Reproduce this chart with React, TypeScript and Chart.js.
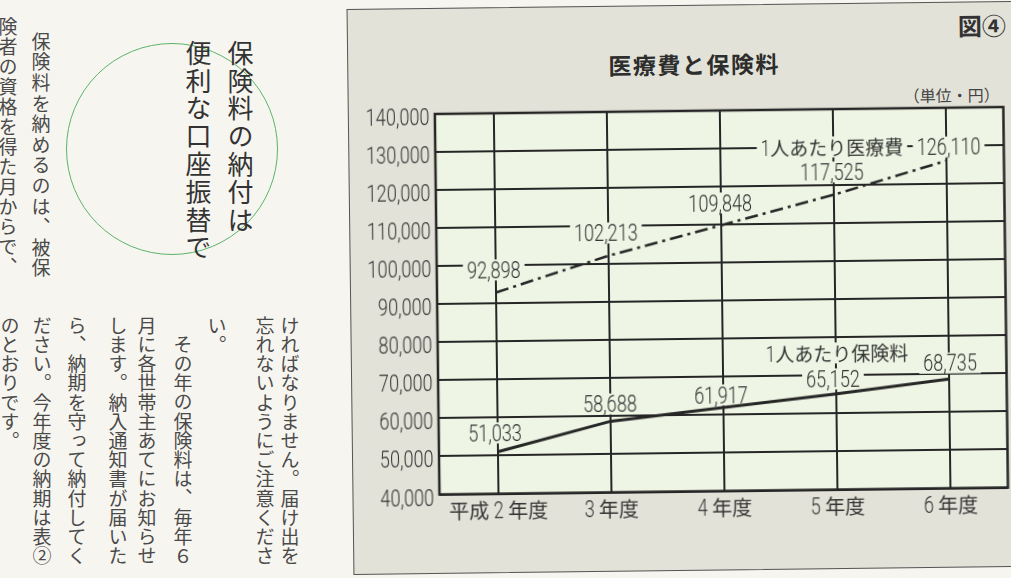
import React, { useEffect, useRef } from "react";
import { Chart, registerables } from "chart.js";

Chart.register(...registerables);

// ---- data ----
const categories = ["平成 2 年度", "3 年度", "4 年度", "5 年度", "6 年度"];
const medicalCost = [92898, 102213, 109848, 117525, 126110];
const premium = [51033, 58688, 61917, 65152, 68735];
const yTicks = [40000, 50000, 60000, 70000, 80000, 90000, 100000, 110000, 120000, 130000, 140000];
const seriesNames = ["1人あたり医療費", "1人あたり保険料"];
const chartTitle = "医療費と保険料";
const unitLabel = "（単位・円）";
const figLabel = "図④";

// ---- label placement (relative to the data point, px) ----
const medicalLabelOffsets = [[-2, -22.5], [-2.5, -22.7], [-1, -22.2], [-2, -22.6], [2, -13.6]];
const premiumLabelOffsets = [[-2.7, -18.8], [-0.5, -17.3], [-2.5, -12.6], [-3.4, -14.9], [0.7, -15.9]];
const nameOffsets = [[-114.7, -15], [-112.2, -27.3]];

// ---- surrounding page text ----
const headline = [
  { text: "保険料の納付は", x: 240, y: 40 },
  { text: "便利な口座振替で", x: 198, y: 40 },
];
const bodyColumns = [
  { text: "険者の資格を得た月からで、", x: 8, y: 17, ls: 1 },
  { text: "保険料を納めるのは、被保", x: 41, y: 32, ls: 1.6 },
  { text: "ければなりません。届け出を", x: 290, y: 316, ls: 0.2 },
  { text: "忘れないようにご注意くださ", x: 265, y: 316, ls: 0.2 },
  { text: "い。", x: 217, y: 316, ls: 0.2 },
  { text: "その年の保険料は、毎年６", x: 183, y: 335, ls: 0.2 },
  { text: "月に各世帯主あてにお知らせ", x: 147, y: 316, ls: 0.2 },
  { text: "します。納入通知書が届いた", x: 118, y: 316, ls: 0.2 },
  { text: "ら、納期を守って納付してく", x: 77, y: 316, ls: 0.2 },
  { text: "ださい。今年度の納期は表②", x: 42, y: 316, ls: 0.2 },
  { text: "のとおりです。", x: 10, y: 316, ls: 0.2 },
];

const NUM_FONT = "Roboto, 'Liberation Sans', Arial, sans-serif";
const NUM_WEIGHT = 300;
const JP_FONT = "'Noto Sans CJK JP', 'Noto Sans', sans-serif";
const SQUEEZE = 0.77;
const PLOT_BG = "#eef5e4";
const PANEL_BG = "#e3e2d8";
const PAGE_BG = "#f7f5ef";
const INK = "#262626";
const TEXT = "#333333";

const fmt = (v: number) => v.toLocaleString("en-US");

function splitRuns(text: string): { s: string; ascii: boolean }[] {
  const out: { s: string; ascii: boolean }[] = [];
  const re = /[\x00-\x7f]+|[^\x00-\x7f]+/g;
  let m: RegExpExecArray | null;
  while ((m = re.exec(text))) out.push({ s: m[0], ascii: /^[\x00-\x7f]/.test(m[0]) });
  return out;
}

function measureMixed(ctx: CanvasRenderingContext2D, text: string, numSize: number, cjkSize: number) {
  let w = 0;
  ctx.save();
  for (const r of splitRuns(text)) {
    if (r.ascii) {
      ctx.font = `${NUM_WEIGHT} ${numSize}px ${NUM_FONT}`;
      w += ctx.measureText(r.s).width * SQUEEZE;
    } else {
      ctx.font = `${cjkSize}px ${JP_FONT}`;
      w += ctx.measureText(r.s).width;
    }
  }
  ctx.restore();
  return w;
}

function drawMixed(
  ctx: CanvasRenderingContext2D,
  text: string,
  x: number,
  baseline: number,
  align: "left" | "center" | "right",
  numSize: number,
  cjkSize: number
) {
  const w = measureMixed(ctx, text, numSize, cjkSize);
  let cx = align === "center" ? x - w / 2 : align === "right" ? x - w : x;
  ctx.save();
  ctx.fillStyle = TEXT;
  ctx.textAlign = "left";
  ctx.textBaseline = "alphabetic";
  for (const r of splitRuns(text)) {
    if (r.ascii) {
      ctx.font = `${NUM_WEIGHT} ${numSize}px ${NUM_FONT}`;
      const rw = ctx.measureText(r.s).width;
      ctx.save();
      ctx.translate(cx, baseline);
      ctx.scale(SQUEEZE, 1);
      ctx.fillText(r.s, 0, 0);
      ctx.restore();
      cx += rw * SQUEEZE;
    } else {
      ctx.font = `${cjkSize}px ${JP_FONT}`;
      ctx.fillText(r.s, cx, baseline);
      cx += ctx.measureText(r.s).width;
    }
  }
  ctx.restore();
  return w;
}

function drawBoxedLabel(ctx: CanvasRenderingContext2D, text: string, cx: number, cy: number, numSize: number, cjkSize: number) {
  const w = measureMixed(ctx, text, numSize, cjkSize);
  ctx.save();
  ctx.fillStyle = PLOT_BG;
  ctx.fillRect(cx - w / 2 - 4, cy - 10.5, w + 8, 21);
  ctx.restore();
  drawMixed(ctx, text, cx, cy + 8.2, "center", numSize, cjkSize);
}

const bgPlugin = {
  id: "plotBg",
  beforeDraw(chart: any) {
    const { ctx, chartArea: a } = chart;
    ctx.save();
    ctx.fillStyle = PLOT_BG;
    ctx.fillRect(a.left, a.top, a.right - a.left, a.bottom - a.top);
    ctx.restore();
  },
};

const axisLabelPlugin = {
  id: "axisLabels",
  afterDraw(chart: any) {
    const ctx = chart.ctx;
    const ys = chart.scales.y;
    const xs = chart.scales.x;
    const a = chart.chartArea;
    ys.ticks.forEach((t: any) => {
      const py = ys.getPixelForValue(t.value);
      drawMixed(ctx, fmt(t.value), a.left - 5.5, py + 11, "right", 23.5, 20);
    });
    xs.ticks.forEach((t: any) => {
      const label = categories[t.value];
      if (label === undefined) return;
      const px = xs.getPixelForValue(t.value);
      drawMixed(ctx, label, px, a.bottom + 24.5, "center", 23.5, 20);
    });
  },
};

const labelPlugin = {
  id: "valueLabels",
  beforeDatasetsDraw(chart: any) {
    const ctx = chart.ctx;
    const offsets = [medicalLabelOffsets, premiumLabelOffsets];
    chart.data.datasets.forEach((ds: any, di: number) => {
      const meta = chart.getDatasetMeta(di);
      meta.data.forEach((pt: any, i: number) => {
        const [dx, dy] = offsets[di][i];
        drawBoxedLabel(ctx, fmt(ds.data[i].y), pt.x + dx, pt.y + dy, 23.5, 20);
      });
      const last = meta.data[meta.data.length - 1];
      const [nx, ny] = nameOffsets[di];
      drawBoxedLabel(ctx, ds.label, last.x + nx, last.y + ny, 22, 19);
    });
  },
};

const borderPlugin = {
  id: "plotBorder",
  afterDraw(chart: any) {
    const { ctx, chartArea: a } = chart;
    ctx.save();
    ctx.strokeStyle = INK;
    ctx.lineWidth = 2.5;
    ctx.strokeRect(a.left, a.top, a.right - a.left, a.bottom - a.top);
    ctx.restore();
  },
};

function LineChart() {
  const ref = useRef<HTMLCanvasElement | null>(null);
  useEffect(() => {
    if (!ref.current) return;
    const chart = new Chart(ref.current, {
      type: "line",
      data: {
        datasets: [
          {
            label: seriesNames[0],
            data: medicalCost.map((y, i) => ({ x: i, y })),
            borderColor: INK,
            borderWidth: 2.5,
            borderDash: [13, 5, 3, 5],
            pointRadius: 0,
            fill: false,
            tension: 0,
          },
          {
            label: seriesNames[1],
            data: premium.map((y, i) => ({ x: i, y })),
            borderColor: INK,
            borderWidth: 3,
            pointRadius: 0,
            fill: false,
            tension: 0,
          },
        ],
      },
      options: {
        animation: false,
        responsive: false,
        maintainAspectRatio: false,
        layout: { padding: { left: 0, top: 106, right: 5.5, bottom: 38.5 } },
        plugins: { legend: { display: false }, tooltip: { enabled: false }, title: { display: false } },
        scales: {
          x: {
            type: "linear",
            min: -0.522,
            max: 4.505,
            afterBuildTicks: (s: any) => {
              s.ticks = categories.map((_, i) => ({ value: i }));
            },
            afterFit: (s: any) => {
              s.height = 40;
            },
            grid: { color: INK, lineWidth: 2, drawTicks: false },
            border: { display: false },
            ticks: { display: false },
          },
          y: {
            type: "linear",
            min: yTicks[0],
            max: yTicks[yTicks.length - 1],
            afterBuildTicks: (s: any) => {
              s.ticks = yTicks.map((v) => ({ value: v }));
            },
            afterFit: (s: any) => {
              s.width = 86;
            },
            grid: { color: INK, lineWidth: 2, drawTicks: false },
            border: { display: false },
            ticks: { display: false },
          },
        },
      } as any,
      plugins: [bgPlugin, labelPlugin, borderPlugin, axisLabelPlugin],
    });
    return () => chart.destroy();
  }, []);
  return <canvas ref={ref} width={660} height={565} style={{ position: "absolute", left: 351, top: 5 }} />;
}

export default function App() {
  return (
    <div
      style={{
        position: "fixed",
        left: 0,
        top: 0,
        width: 1011,
        height: 578,
        overflow: "hidden",
        background: PAGE_BG,
        fontFamily: JP_FONT,
      }}
    >
      {/* left page: circle and vertical text */}
      <div
        style={{
          position: "absolute",
          left: 66,
          top: 43,
          width: 212,
          height: 212,
          borderRadius: "50%",
          border: "1.5px solid #5cb46a",
          boxSizing: "border-box",
        }}
      />
      {headline.map((h, i) => (
        <div
          key={"h" + i}
          style={{
            position: "absolute",
            left: h.x - 13,
            top: h.y,
            writingMode: "vertical-rl",
            fontSize: 26,
            lineHeight: "26px",
            letterSpacing: 1.8,
            color: "#333",
            whiteSpace: "nowrap",
          }}
        >
          {h.text}
        </div>
      ))}
      {bodyColumns.map((c, i) => (
        <div
          key={"c" + i}
          style={{
            position: "absolute",
            left: c.x - 9.5,
            top: c.y,
            writingMode: "vertical-rl",
            fontSize: 19,
            lineHeight: "19px",
            letterSpacing: c.ls,
            color: "#4a4a4a",
            whiteSpace: "nowrap",
            fontWeight: 400,
          }}
        >
          {c.text}
        </div>
      ))}

      {/* chart panel (the scan is turned slightly) */}
      <div
        style={{
          position: "absolute",
          left: 0,
          top: 0,
          width: 1011,
          height: 578,
          transform: "rotate(-0.7deg)",
          transformOrigin: "680px 290px",
        }}
      >
        <div
          style={{
            position: "absolute",
            left: 350,
            top: 4.5,
            width: 720,
            height: 566,
            background: PANEL_BG,
            border: "1.5px solid #555",
            boxSizing: "border-box",
          }}
        />
        <div
          style={{
            position: "absolute",
            left: 597,
            top: 49,
            width: 200,
            textAlign: "center",
            fontSize: 23,
            lineHeight: "30px",
            fontWeight: 700,
            letterSpacing: 1.5,
            color: "#2d2d2d",
          }}
        >
          {chartTitle}
        </div>
        <div
          style={{
            position: "absolute",
            left: 906,
            top: 88,
            fontSize: 16,
            lineHeight: "20px",
            color: "#444",
            whiteSpace: "nowrap",
          }}
        >
          {unitLabel}
        </div>
        <div
          style={{
            position: "absolute",
            left: 961,
            top: 13,
            fontSize: 24,
            lineHeight: "32px",
            fontWeight: 700,
            color: "#333",
            whiteSpace: "nowrap",
          }}
        >
          {figLabel}
        </div>
        <LineChart />
      </div>
    </div>
  );
}
